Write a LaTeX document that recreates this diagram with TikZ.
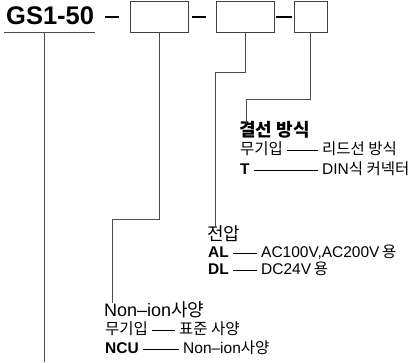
\documentclass[tikz,border=0pt]{standalone}
\usepackage{fontspec}
\setmainfont{Liberation Sans}
\newfontfamily\kr{Noto Sans CJK KR}
\usepackage{tikz}
\usetikzlibrary{positioning,calc}

\begin{document}
\begin{tikzpicture}[
    x=1pt, y=-1pt,
    codebox/.style={rectangle, draw=black!75, line width=1.1pt, inner sep=0pt},
    sepdash/.style={line width=2pt, black},
    leader/.style={draw=black!70, line width=0.9pt},
    rowdash/.style={black, line width=0.6pt, shorten <=4pt, shorten >=4pt},
    heading/.style={anchor=west, inner sep=0pt, text height=13pt, text depth=3pt, font=\fontsize{18}{20}\selectfont},
    entry/.style={anchor=west, inner sep=0pt, text height=11pt, text depth=3pt, font=\fontsize{15.5}{17}\selectfont}
]
\useasboundingbox (0,0) rectangle (411,362);

% Model code
\node[anchor=west, inner sep=0pt, font=\fontsize{25.5}{27}\selectfont\bfseries] (model) at (6,16) {GS1-50};
\coordinate (ulL) at (4,32);
\coordinate (ulR) at (95,32);
\draw[leader] (ulL) -- (ulR);

% Boxes
\node[codebox, minimum width=58pt, minimum height=31.5pt, anchor=north west] (box1) at (130,0.6) {};
\node[codebox, minimum width=58pt, minimum height=31.5pt, anchor=north west] (box2) at (216,0.6) {};
\node[codebox, minimum width=32.5pt, minimum height=31.5pt, anchor=north west] (box3) at (294,0.6) {};

% Separators
\coordinate (d1a) at (105,16.5); \coordinate (d1b) at (119,16.5);
\coordinate (d2a) at (192,16.5); \coordinate (d2b) at (206,16.5);
\coordinate (d3a) at (276,16.5); \coordinate (d3b) at (292,16.5);
\draw[sepdash] (d1a) -- (d1b);
\draw[sepdash] (d2a) -- (d2b);
\draw[sepdash] (d3a) -- (d3b);

% Connection
\node[heading, font=\fontsize{18}{20}\selectfont\bfseries] (conn) at (239,131) {\kr 결선 방식};
\node[entry] (conn1k) at (240,150) {\kr 무기입};
\node[entry] (conn1v) at (322,150) {\kr 리드선 방식};
\node[entry, font=\fontsize{15.5}{17}\selectfont\bfseries] (conn2k) at (240,170) {T};
\node[entry] (conn2v) at (322,170) {DIN\kr 식 커넥터};
\draw[rowdash] (conn1k) -- (conn1v);
\draw[rowdash] (conn2k) -- (conn2v);

% Voltage
\node[heading] (volt) at (207,235) {\kr 전압};
\node[entry, font=\fontsize{15.5}{17}\selectfont\bfseries] (volt1k) at (208,253) {AL};
\node[entry] (volt1v) at (261,253) {AC100V,AC200V\,{\kr 용}};
\node[entry, font=\fontsize{15.5}{17}\selectfont\bfseries] (volt2k) at (208,270) {DL};
\node[entry] (volt2v) at (261,270) {DC24V\,{\kr 용}};
\draw[rowdash] (volt1k) -- (volt1v);
\draw[rowdash] (volt2k) -- (volt2v);

% Non-ion
\node[heading] (nonion) at (104,311) {Non--ion{\kr 사양}};
\node[entry] (non1k) at (105,330) {\kr 무기입};
\node[entry] (non1v) at (179,330) {\kr 표준 사양};
\node[entry, font=\fontsize{15.5}{17}\selectfont\bfseries] (non2k) at (105,349) {NCU};
\node[entry] (non2v) at (183,349) {Non--ion{\kr 사양}};
\draw[rowdash] (non1k) -- (non1v);
\draw[rowdash] (non2k) -- (non2v);

% Leader lines
\coordinate (m0) at (44,32);
\coordinate (m1) at (44,362);
\draw[leader] (m0) -- (m1);
\coordinate (b1) at (112.7,219);
\draw[leader] (box1.south) |- (b1) -- (b1 |- nonion.north);
\coordinate (b2) at (215.7,72.3);
\draw[leader] (box2.south) |- (b2) -- (b2 |- volt.north);
\coordinate (b3) at (246,99);
\draw[leader] (box3.south) |- (b3) -- (b3 |- conn.north);

\end{tikzpicture}
\end{document}
